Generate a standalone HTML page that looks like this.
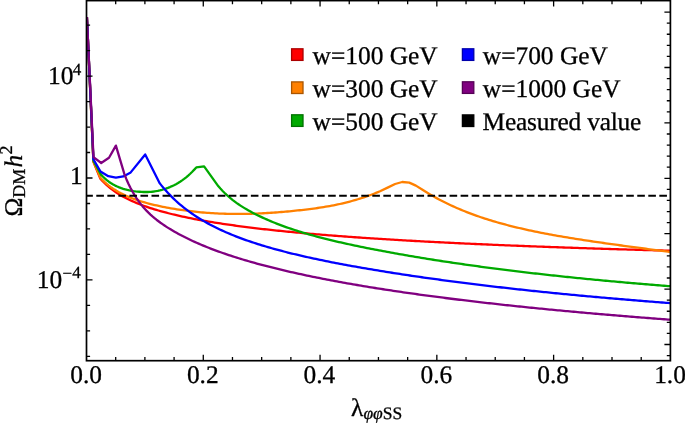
<!DOCTYPE html>
<html><head><meta charset="utf-8"><style>
html,body{margin:0;padding:0;background:#fff;}
svg{display:block;will-change:transform;}
text{font-family:"Liberation Serif",serif;fill:#000;stroke:#000;stroke-width:0.3px;text-rendering:geometricPrecision;}
</style></head><body>
<svg width="685" height="423" viewBox="0 0 685 423">
<rect width="685" height="423" fill="#fff"/>
<defs><clipPath id="pc"><rect x="86.5" y="0.6" width="583.90" height="360.10"/></clipPath></defs>
<g fill="none" stroke-width="2.3" stroke-linejoin="round" stroke-linecap="butt" clip-path="url(#pc)">
<polyline points="86.90,17.00 93.40,161.80 100.20,178.40 102.21,180.69 104.21,182.78 106.22,184.70 108.23,186.47 110.23,188.12 112.24,189.67 114.24,191.11 116.25,192.47 118.26,193.76 120.26,194.97 122.27,196.13 124.28,197.23 126.28,198.27 128.29,199.27 130.30,200.23 132.30,201.15 134.31,202.03 136.31,202.88 138.32,203.70 140.33,204.48 142.33,205.24 144.34,205.98 146.35,206.69 148.35,207.38 150.36,208.04 152.36,208.69 154.37,209.31 156.38,209.92 158.38,210.52 160.39,211.09 162.40,211.65 164.40,212.20 166.41,212.73 168.42,213.25 170.42,213.75 172.43,214.25 174.43,214.73 176.44,215.20 178.45,215.66 180.45,216.11 182.46,216.55 184.47,216.98 186.47,217.41 188.48,217.82 190.49,218.22 192.49,218.62 194.50,219.01 196.50,219.39 198.51,219.77 200.52,220.14 202.52,220.50 204.53,220.85 206.54,221.20 208.54,221.54 210.55,221.88 212.55,222.21 214.56,222.53 216.57,222.85 218.57,223.17 220.58,223.48 222.59,223.78 224.59,224.08 226.60,224.37 228.61,224.66 230.61,224.95 232.62,225.23 234.62,225.51 236.63,225.78 238.64,226.05 240.64,226.32 242.65,226.58 244.66,226.84 246.66,227.09 248.67,227.35 250.68,227.59 252.68,227.84 254.69,228.08 256.69,228.32 258.70,228.55 260.71,228.79 262.71,229.02 264.72,229.24 266.73,229.47 268.73,229.69 270.74,229.90 272.75,230.12 274.75,230.33 276.76,230.54 278.76,230.75 280.77,230.96 282.78,231.16 284.78,231.36 286.79,231.56 288.80,231.76 290.80,231.95 292.81,232.14 294.81,232.33 296.82,232.52 298.83,232.71 300.83,232.89 302.84,233.07 304.85,233.25 306.85,233.43 308.86,233.61 310.87,233.78 312.87,233.96 314.88,234.13 316.88,234.30 318.89,234.46 320.90,234.63 322.90,234.80 324.91,234.96 326.92,235.12 328.92,235.28 330.93,235.44 332.94,235.59 334.94,235.75 336.95,235.90 338.95,236.06 340.96,236.21 342.97,236.36 344.97,236.51 346.98,236.65 348.99,236.80 350.99,236.94 353.00,237.09 355.00,237.23 357.01,237.37 359.02,237.51 361.02,237.65 363.03,237.78 365.04,237.92 367.04,238.05 369.05,238.19 371.06,238.32 373.06,238.45 375.07,238.58 377.07,238.71 379.08,238.84 381.09,238.97 383.09,239.09 385.10,239.22 387.11,239.34 389.11,239.47 391.12,239.59 393.13,239.71 395.13,239.83 397.14,239.95 399.14,240.07 401.15,240.18 403.16,240.30 405.16,240.42 407.17,240.53 409.18,240.65 411.18,240.76 413.19,240.87 415.20,240.98 417.20,241.09 419.21,241.20 421.21,241.31 423.22,241.42 425.23,241.53 427.23,241.64 429.24,241.74 431.25,241.85 433.25,241.95 435.26,242.06 437.26,242.16 439.27,242.26 441.28,242.36 443.28,242.46 445.29,242.56 447.30,242.66 449.30,242.76 451.31,242.86 453.32,242.96 455.32,243.06 457.33,243.15 459.33,243.25 461.34,243.34 463.35,243.44 465.35,243.53 467.36,243.62 469.37,243.72 471.37,243.81 473.38,243.90 475.39,243.99 477.39,244.08 479.40,244.17 481.40,244.26 483.41,244.35 485.42,244.44 487.42,244.52 489.43,244.61 491.44,244.70 493.44,244.78 495.45,244.87 497.45,244.95 499.46,245.04 501.47,245.12 503.47,245.20 505.48,245.28 507.49,245.37 509.49,245.45 511.50,245.53 513.51,245.61 515.51,245.69 517.52,245.77 519.52,245.85 521.53,245.93 523.54,246.01 525.54,246.08 527.55,246.16 529.56,246.24 531.56,246.31 533.57,246.39 535.58,246.47 537.58,246.54 539.59,246.62 541.59,246.69 543.60,246.76 545.61,246.84 547.61,246.91 549.62,246.98 551.63,247.06 553.63,247.13 555.64,247.20 557.65,247.27 559.65,247.34 561.66,247.41 563.66,247.48 565.67,247.55 567.68,247.62 569.68,247.69 571.69,247.76 573.70,247.82 575.70,247.89 577.71,247.96 579.71,248.03 581.72,248.09 583.73,248.16 585.73,248.22 587.74,248.29 589.75,248.35 591.75,248.42 593.76,248.48 595.77,248.55 597.77,248.61 599.78,248.67 601.78,248.74 603.79,248.80 605.80,248.86 607.80,248.92 609.81,248.99 611.82,249.05 613.82,249.11 615.83,249.17 617.84,249.23 619.84,249.29 621.85,249.35 623.85,249.41 625.86,249.47 627.87,249.53 629.87,249.59 631.88,249.65 633.89,249.70 635.89,249.76 637.90,249.82 639.90,249.88 641.91,249.93 643.92,249.99 645.92,250.05 647.93,250.10 649.94,250.16 651.94,250.21 653.95,250.27 655.96,250.32 657.96,250.38 659.97,250.43 661.97,250.49 663.98,250.54 665.99,250.59 667.99,250.65 670.00,250.70" stroke="#ff0000"/>
<polyline points="86.90,17.00 93.40,161.30 100.40,177.80 102.41,179.95 104.42,181.90 106.43,183.69 108.45,185.34 110.46,186.87 112.47,188.28 114.48,189.60 116.49,190.84 118.50,191.99 120.52,193.08 122.53,194.10 124.54,195.07 126.55,195.98 128.56,196.85 130.57,197.67 132.58,198.45 134.60,199.19 136.61,199.90 138.62,200.57 140.63,201.22 142.64,201.83 144.65,202.42 146.66,202.99 148.68,203.53 150.69,204.05 152.70,204.55 154.71,205.03 156.72,205.49 158.73,205.94 160.75,206.36 162.76,206.77 164.77,207.17 166.78,207.55 168.79,207.92 170.80,208.28 172.81,208.62 174.83,208.96 176.84,209.28 178.85,209.59 180.86,209.89 182.87,210.18 184.88,210.46 186.89,210.73 188.91,210.98 190.92,211.23 192.93,211.47 194.94,211.69 196.95,211.91 198.96,212.11 200.98,212.30 202.99,212.48 205.00,212.65 207.01,212.81 209.02,212.96 211.03,213.10 213.04,213.22 215.06,213.34 217.07,213.44 219.08,213.54 221.09,213.62 223.10,213.70 225.11,213.76 227.13,213.81 229.14,213.86 231.15,213.89 233.16,213.92 235.17,213.94 237.18,213.94 239.19,213.94 241.21,213.93 243.22,213.91 245.23,213.88 247.24,213.84 249.25,213.79 251.26,213.74 253.27,213.68 255.29,213.61 257.30,213.53 259.31,213.44 261.32,213.35 263.33,213.25 265.34,213.14 267.36,213.02 269.37,212.90 271.38,212.77 273.39,212.63 275.40,212.48 277.41,212.33 279.42,212.17 281.44,212.01 283.45,211.84 285.46,211.66 287.47,211.48 289.48,211.29 291.49,211.09 293.51,210.89 295.52,210.68 297.53,210.47 299.54,210.25 301.55,210.02 303.56,209.79 305.57,209.56 307.59,209.32 309.60,209.07 311.61,208.81 313.62,208.55 315.63,208.27 317.64,207.99 319.65,207.70 321.67,207.39 323.68,207.07 325.69,206.74 327.70,206.39 329.71,206.03 331.72,205.66 333.74,205.27 335.75,204.86 337.76,204.44 339.77,204.00 341.78,203.55 343.79,203.07 345.80,202.58 347.82,202.08 349.83,201.55 351.84,201.00 353.85,200.44 355.86,199.86 357.87,199.25 359.88,198.63 361.90,197.99 363.91,197.33 365.92,196.65 367.93,195.94 369.94,195.22 371.95,194.48 373.97,193.71 375.98,192.93 377.99,192.13 380.00,191.30 387.60,187.60 395.10,184.00 402.20,182.00 409.30,182.60 415.90,185.60 422.50,189.80 424.51,191.07 426.52,192.31 428.54,193.53 430.55,194.71 432.56,195.87 434.57,197.01 436.59,198.12 438.60,199.20 440.61,200.26 442.62,201.29 444.63,202.31 446.65,203.30 448.66,204.27 450.67,205.21 452.68,206.14 454.70,207.05 456.71,207.93 458.72,208.80 460.73,209.65 462.74,210.48 464.76,211.29 466.77,212.09 468.78,212.87 470.79,213.63 472.80,214.38 474.82,215.11 476.83,215.83 478.84,216.53 480.85,217.22 482.87,217.89 484.88,218.55 486.89,219.20 488.90,219.83 490.91,220.45 492.93,221.06 494.94,221.66 496.95,222.24 498.96,222.82 500.98,223.38 502.99,223.93 505.00,224.48 507.01,225.01 509.02,225.53 511.04,226.04 513.05,226.55 515.06,227.04 517.07,227.53 519.09,228.00 521.10,228.47 523.11,228.94 525.12,229.39 527.13,229.83 529.15,230.27 531.16,230.70 533.17,231.13 535.18,231.55 537.20,231.96 539.21,232.36 541.22,232.76 543.23,233.16 545.24,233.54 547.26,233.93 549.27,234.30 551.28,234.67 553.29,235.04 555.30,235.40 557.32,235.76 559.33,236.11 561.34,236.46 563.35,236.80 565.37,237.14 567.38,237.48 569.39,237.81 571.40,238.14 573.41,238.46 575.43,238.78 577.44,239.10 579.45,239.42 581.46,239.73 583.48,240.04 585.49,240.34 587.50,240.65 589.51,240.95 591.52,241.25 593.54,241.54 595.55,241.84 597.56,242.13 599.57,242.42 601.59,242.71 603.60,243.00 605.61,243.28 607.62,243.57 609.63,243.85 611.65,244.13 613.66,244.41 615.67,244.69 617.68,244.96 619.70,245.24 621.71,245.51 623.72,245.79 625.73,246.06 627.74,246.33 629.76,246.60 631.77,246.87 633.78,247.15 635.79,247.42 637.80,247.69 639.82,247.95 641.83,248.22 643.84,248.49 645.85,248.76 647.87,249.03 649.88,249.30 651.89,249.57 653.90,249.84 655.91,250.11 657.93,250.38 659.94,250.65 661.95,250.92 663.96,251.19 665.98,251.46 667.99,251.73 670.00,252.00" stroke="#ff8000"/>
<polyline points="86.90,17.00 93.40,160.60 101.00,174.60 103.03,176.76 105.06,178.69 107.08,180.40 109.11,181.93 111.14,183.29 113.17,184.51 115.19,185.59 117.22,186.55 119.25,187.40 121.28,188.16 123.30,188.83 125.33,189.42 127.36,189.93 129.39,190.38 131.41,190.76 133.44,191.09 135.47,191.36 137.50,191.58 139.53,191.76 141.55,191.90 143.58,191.99 145.61,192.02 147.64,191.99 149.66,191.90 151.69,191.74 153.72,191.51 155.75,191.21 157.77,190.83 159.80,190.38 161.83,189.86 163.86,189.27 165.89,188.60 167.91,187.87 169.94,187.06 171.97,186.18 174.00,185.21 176.02,184.16 178.05,183.01 180.08,181.76 182.11,180.39 184.13,178.91 186.16,177.31 188.19,175.58 190.22,173.73 192.24,171.75 194.27,169.64 196.30,167.40 204.10,166.30 218.40,186.30 220.41,188.58 222.41,190.73 224.42,192.76 226.43,194.68 228.44,196.49 230.44,198.21 232.45,199.84 234.46,201.38 236.46,202.86 238.47,204.26 240.48,205.61 242.49,206.90 244.49,208.13 246.50,209.32 248.51,210.47 250.51,211.57 252.52,212.65 254.53,213.69 256.54,214.71 258.54,215.70 260.55,216.66 262.56,217.60 264.56,218.52 266.57,219.42 268.58,220.29 270.58,221.14 272.59,221.97 274.60,222.79 276.61,223.58 278.61,224.36 280.62,225.12 282.63,225.87 284.63,226.60 286.64,227.31 288.65,228.01 290.66,228.69 292.66,229.36 294.67,230.02 296.68,230.67 298.68,231.30 300.69,231.93 302.70,232.54 304.71,233.14 306.71,233.73 308.72,234.31 310.73,234.87 312.73,235.44 314.74,235.99 316.75,236.53 318.76,237.06 320.76,237.59 322.77,238.11 324.78,238.62 326.78,239.12 328.79,239.62 330.80,240.11 332.81,240.59 334.81,241.07 336.82,241.54 338.83,242.01 340.83,242.47 342.84,242.92 344.85,243.37 346.86,243.81 348.86,244.25 350.87,244.69 352.88,245.11 354.88,245.54 356.89,245.96 358.90,246.38 360.90,246.79 362.91,247.20 364.92,247.60 366.93,248.01 368.93,248.40 370.94,248.80 372.95,249.19 374.95,249.58 376.96,249.97 378.97,250.35 380.98,250.73 382.98,251.11 384.99,251.48 387.00,251.85 389.00,252.22 391.01,252.59 393.02,252.95 395.03,253.32 397.03,253.68 399.04,254.03 401.05,254.39 403.05,254.74 405.06,255.09 407.07,255.44 409.08,255.78 411.08,256.12 413.09,256.46 415.10,256.80 417.10,257.14 419.11,257.47 421.12,257.80 423.13,258.13 425.13,258.46 427.14,258.78 429.15,259.10 431.15,259.42 433.16,259.74 435.17,260.06 437.18,260.37 439.18,260.68 441.19,260.99 443.20,261.30 445.20,261.60 447.21,261.91 449.22,262.21 451.22,262.51 453.23,262.81 455.24,263.10 457.25,263.40 459.25,263.69 461.26,263.98 463.27,264.26 465.27,264.55 467.28,264.83 469.29,265.12 471.30,265.40 473.30,265.68 475.31,265.95 477.32,266.23 479.32,266.50 481.33,266.77 483.34,267.04 485.35,267.31 487.35,267.58 489.36,267.84 491.37,268.11 493.37,268.37 495.38,268.63 497.39,268.89 499.40,269.14 501.40,269.40 503.41,269.65 505.42,269.90 507.42,270.15 509.43,270.40 511.44,270.65 513.45,270.90 515.45,271.14 517.46,271.38 519.47,271.62 521.47,271.86 523.48,272.10 525.49,272.34 527.50,272.57 529.50,272.81 531.51,273.04 533.52,273.27 535.52,273.50 537.53,273.73 539.54,273.96 541.54,274.18 543.55,274.41 545.56,274.63 547.57,274.85 549.57,275.07 551.58,275.29 553.59,275.51 555.59,275.72 557.60,275.94 559.61,276.15 561.62,276.36 563.62,276.58 565.63,276.79 567.64,276.99 569.64,277.20 571.65,277.41 573.66,277.61 575.67,277.82 577.67,278.02 579.68,278.22 581.69,278.42 583.69,278.62 585.70,278.82 587.71,279.02 589.72,279.21 591.72,279.41 593.73,279.60 595.74,279.79 597.74,279.98 599.75,280.17 601.76,280.36 603.77,280.55 605.77,280.74 607.78,280.92 609.79,281.11 611.79,281.29 613.80,281.48 615.81,281.66 617.82,281.84 619.82,282.02 621.83,282.20 623.84,282.37 625.84,282.55 627.85,282.73 629.86,282.90 631.86,283.07 633.87,283.25 635.88,283.42 637.89,283.59 639.89,283.76 641.90,283.93 643.91,284.10 645.91,284.26 647.92,284.43 649.93,284.60 651.94,284.76 653.94,284.92 655.95,285.09 657.96,285.25 659.96,285.41 661.97,285.57 663.98,285.73 665.99,285.89 667.99,286.04 670.00,286.20" stroke="#00aa00"/>
<polyline points="86.90,17.00 93.40,159.20 100.50,171.50 108.30,176.20 115.90,177.60 123.30,176.40 130.70,172.40 145.20,154.50 159.80,183.40 161.80,185.90 163.80,188.29 165.80,190.58 167.80,192.78 169.80,194.89 171.80,196.91 173.81,198.86 175.81,200.73 177.81,202.53 179.81,204.27 181.81,205.94 183.81,207.56 185.81,209.12 187.81,210.63 189.81,212.09 191.81,213.50 193.81,214.87 195.81,216.20 197.81,217.48 199.82,218.73 201.82,219.94 203.82,221.12 205.82,222.27 207.82,223.38 209.82,224.46 211.82,225.52 213.82,226.54 215.82,227.54 217.82,228.52 219.82,229.47 221.82,230.40 223.83,231.30 225.83,232.19 227.83,233.05 229.83,233.90 231.83,234.73 233.83,235.54 235.83,236.33 237.83,237.10 239.83,237.86 241.83,238.61 243.83,239.34 245.83,240.05 247.83,240.75 249.84,241.44 251.84,242.12 253.84,242.78 255.84,243.43 257.84,244.07 259.84,244.70 261.84,245.31 263.84,245.92 265.84,246.52 267.84,247.11 269.84,247.69 271.84,248.26 273.84,248.82 275.85,249.37 277.85,249.91 279.85,250.45 281.85,250.98 283.85,251.50 285.85,252.01 287.85,252.52 289.85,253.02 291.85,253.51 293.85,254.00 295.85,254.48 297.85,254.96 299.85,255.43 301.86,255.89 303.86,256.35 305.86,256.80 307.86,257.25 309.86,257.69 311.86,258.13 313.86,258.56 315.86,258.99 317.86,259.41 319.86,259.83 321.86,260.24 323.86,260.65 325.87,261.06 327.87,261.46 329.87,261.86 331.87,262.26 333.87,262.65 335.87,263.03 337.87,263.42 339.87,263.80 341.87,264.18 343.87,264.55 345.87,264.92 347.87,265.29 349.87,265.65 351.88,266.02 353.88,266.37 355.88,266.73 357.88,267.08 359.88,267.44 361.88,267.78 363.88,268.13 365.88,268.47 367.88,268.81 369.88,269.15 371.88,269.49 373.88,269.82 375.88,270.16 377.89,270.48 379.89,270.81 381.89,271.14 383.89,271.46 385.89,271.78 387.89,272.10 389.89,272.42 391.89,272.74 393.89,273.05 395.89,273.36 397.89,273.67 399.89,273.98 401.89,274.28 403.90,274.59 405.90,274.89 407.90,275.19 409.90,275.49 411.90,275.79 413.90,276.08 415.90,276.37 417.90,276.66 419.90,276.95 421.90,277.24 423.90,277.53 425.90,277.81 427.91,278.10 429.91,278.38 431.91,278.66 433.91,278.93 435.91,279.21 437.91,279.48 439.91,279.76 441.91,280.03 443.91,280.30 445.91,280.57 447.91,280.83 449.91,281.10 451.91,281.36 453.92,281.62 455.92,281.88 457.92,282.14 459.92,282.40 461.92,282.66 463.92,282.91 465.92,283.16 467.92,283.42 469.92,283.67 471.92,283.92 473.92,284.16 475.92,284.41 477.92,284.65 479.93,284.90 481.93,285.14 483.93,285.38 485.93,285.62 487.93,285.86 489.93,286.10 491.93,286.33 493.93,286.57 495.93,286.80 497.93,287.03 499.93,287.26 501.93,287.49 503.93,287.72 505.94,287.94 507.94,288.17 509.94,288.39 511.94,288.62 513.94,288.84 515.94,289.06 517.94,289.28 519.94,289.50 521.94,289.71 523.94,289.93 525.94,290.15 527.94,290.36 529.95,290.57 531.95,290.78 533.95,290.99 535.95,291.20 537.95,291.41 539.95,291.62 541.95,291.82 543.95,292.03 545.95,292.23 547.95,292.44 549.95,292.64 551.95,292.84 553.95,293.04 555.96,293.24 557.96,293.44 559.96,293.63 561.96,293.83 563.96,294.02 565.96,294.22 567.96,294.41 569.96,294.60 571.96,294.79 573.96,294.98 575.96,295.17 577.96,295.36 579.96,295.55 581.97,295.73 583.97,295.92 585.97,296.10 587.97,296.29 589.97,296.47 591.97,296.65 593.97,296.83 595.97,297.01 597.97,297.19 599.97,297.37 601.97,297.55 603.97,297.72 605.97,297.90 607.98,298.07 609.98,298.25 611.98,298.42 613.98,298.59 615.98,298.76 617.98,298.93 619.98,299.10 621.98,299.27 623.98,299.44 625.98,299.61 627.98,299.77 629.98,299.94 631.99,300.11 633.99,300.27 635.99,300.43 637.99,300.60 639.99,300.76 641.99,300.92 643.99,301.08 645.99,301.24 647.99,301.40 649.99,301.56 651.99,301.71 653.99,301.87 655.99,302.03 658.00,302.18 660.00,302.34 662.00,302.49 664.00,302.64 666.00,302.80 668.00,302.95 670.00,303.10" stroke="#0000ff"/>
<polyline points="86.90,17.00 93.50,157.20 101.20,163.00 109.00,157.80 115.90,145.60 124.40,174.20 126.41,179.18 128.41,183.68 130.42,187.77 132.42,191.50 134.43,194.92 136.44,198.06 138.44,200.96 140.45,203.64 142.45,206.13 144.46,208.45 146.46,210.62 148.47,212.65 150.48,214.57 152.48,216.38 154.49,218.09 156.49,219.72 158.50,221.27 160.51,222.76 162.51,224.17 164.52,225.54 166.52,226.85 168.53,228.12 170.54,229.35 172.54,230.54 174.55,231.70 176.55,232.83 178.56,233.93 180.56,235.00 182.57,236.05 184.58,237.07 186.58,238.07 188.59,239.05 190.59,240.00 192.60,240.94 194.61,241.85 196.61,242.75 198.62,243.63 200.62,244.49 202.63,245.33 204.64,246.16 206.64,246.98 208.65,247.77 210.65,248.56 212.66,249.33 214.66,250.08 216.67,250.83 218.68,251.56 220.68,252.28 222.69,252.98 224.69,253.68 226.70,254.37 228.71,255.04 230.71,255.70 232.72,256.36 234.72,257.00 236.73,257.64 238.74,258.26 240.74,258.88 242.75,259.49 244.75,260.09 246.76,260.68 248.76,261.26 250.77,261.84 252.78,262.41 254.78,262.97 256.79,263.53 258.79,264.07 260.80,264.61 262.81,265.15 264.81,265.68 266.82,266.20 268.82,266.71 270.83,267.22 272.84,267.73 274.84,268.22 276.85,268.72 278.85,269.20 280.86,269.69 282.86,270.16 284.87,270.64 286.88,271.10 288.88,271.56 290.89,272.02 292.89,272.48 294.90,272.92 296.91,273.37 298.91,273.81 300.92,274.24 302.92,274.67 304.93,275.10 306.94,275.52 308.94,275.94 310.95,276.36 312.95,276.77 314.96,277.18 316.96,277.58 318.97,277.98 320.98,278.38 322.98,278.78 324.99,279.17 326.99,279.55 329.00,279.94 331.01,280.32 333.01,280.70 335.02,281.07 337.02,281.44 339.03,281.81 341.04,282.18 343.04,282.54 345.05,282.90 347.05,283.26 349.06,283.61 351.06,283.97 353.07,284.31 355.08,284.66 357.08,285.00 359.09,285.35 361.09,285.68 363.10,286.02 365.11,286.36 367.11,286.69 369.12,287.02 371.12,287.34 373.13,287.67 375.14,287.99 377.14,288.31 379.15,288.62 381.15,288.94 383.16,289.25 385.16,289.56 387.17,289.87 389.18,290.18 391.18,290.48 393.19,290.78 395.19,291.09 397.20,291.38 399.21,291.68 401.21,291.97 403.22,292.27 405.22,292.56 407.23,292.84 409.24,293.13 411.24,293.42 413.25,293.70 415.25,293.98 417.26,294.26 419.26,294.54 421.27,294.81 423.28,295.09 425.28,295.36 427.29,295.63 429.29,295.90 431.30,296.16 433.31,296.43 435.31,296.69 437.32,296.95 439.32,297.22 441.33,297.47 443.34,297.73 445.34,297.99 447.35,298.24 449.35,298.50 451.36,298.75 453.36,299.00 455.37,299.25 457.38,299.49 459.38,299.74 461.39,299.98 463.39,300.22 465.40,300.47 467.41,300.71 469.41,300.94 471.42,301.18 473.42,301.42 475.43,301.65 477.44,301.89 479.44,302.12 481.45,302.35 483.45,302.58 485.46,302.81 487.46,303.03 489.47,303.26 491.48,303.48 493.48,303.71 495.49,303.93 497.49,304.15 499.50,304.37 501.51,304.59 503.51,304.81 505.52,305.02 507.52,305.24 509.53,305.45 511.54,305.67 513.54,305.88 515.55,306.09 517.55,306.30 519.56,306.51 521.56,306.71 523.57,306.92 525.58,307.13 527.58,307.33 529.59,307.53 531.59,307.74 533.60,307.94 535.61,308.14 537.61,308.34 539.62,308.54 541.62,308.73 543.63,308.93 545.64,309.13 547.64,309.32 549.65,309.52 551.65,309.71 553.66,309.90 555.66,310.09 557.67,310.28 559.68,310.47 561.68,310.66 563.69,310.85 565.69,311.03 567.70,311.22 569.71,311.40 571.71,311.59 573.72,311.77 575.72,311.95 577.73,312.14 579.74,312.32 581.74,312.50 583.75,312.68 585.75,312.85 587.76,313.03 589.76,313.21 591.77,313.38 593.78,313.56 595.78,313.73 597.79,313.91 599.79,314.08 601.80,314.25 603.81,314.42 605.81,314.59 607.82,314.76 609.82,314.93 611.83,315.10 613.84,315.27 615.84,315.44 617.85,315.60 619.85,315.77 621.86,315.93 623.86,316.10 625.87,316.26 627.88,316.42 629.88,316.59 631.89,316.75 633.89,316.91 635.90,317.07 637.91,317.23 639.91,317.39 641.92,317.55 643.92,317.70 645.93,317.86 647.94,318.02 649.94,318.17 651.95,318.33 653.95,318.48 655.96,318.64 657.96,318.79 659.97,318.94 661.98,319.10 663.98,319.25 665.99,319.40 667.99,319.55 670.00,319.70" stroke="#800080"/>
</g>
<line x1="86.5" y1="195.85" x2="670.4" y2="195.85" stroke="#000" stroke-width="2.0" stroke-dasharray="7.6 3.44" stroke-dashoffset="1.24"/>
<rect x="86.5" y="0.6" width="583.90" height="360.10" fill="none" stroke="#000" stroke-width="1.7"/>
<path d="M115.69,360.7v-3.6 M115.69,0.6v3.6 M144.89,360.7v-3.6 M144.89,0.6v3.6 M174.09,360.7v-3.6 M174.09,0.6v3.6 M203.28,360.7v-6 M203.28,0.6v6 M232.47,360.7v-3.6 M232.47,0.6v3.6 M261.67,360.7v-3.6 M261.67,0.6v3.6 M290.87,360.7v-3.6 M290.87,0.6v3.6 M320.06,360.7v-6 M320.06,0.6v6 M349.25,360.7v-3.6 M349.25,0.6v3.6 M378.45,360.7v-3.6 M378.45,0.6v3.6 M407.65,360.7v-3.6 M407.65,0.6v3.6 M436.84,360.7v-6 M436.84,0.6v6 M466.04,360.7v-3.6 M466.04,0.6v3.6 M495.23,360.7v-3.6 M495.23,0.6v3.6 M524.42,360.7v-3.6 M524.42,0.6v3.6 M553.62,360.7v-6 M553.62,0.6v6 M582.82,360.7v-3.6 M582.82,0.6v3.6 M612.01,360.7v-3.6 M612.01,0.6v3.6 M641.21,360.7v-3.6 M641.21,0.6v3.6 M86.5,356.36h3.6 M86.5,330.88h3.6 M86.5,305.40h3.6 M86.5,279.92h6 M86.5,254.44h3.6 M86.5,228.96h3.6 M86.5,203.48h3.6 M86.5,178.00h6 M86.5,152.52h3.6 M86.5,127.04h3.6 M86.5,101.56h3.6 M86.5,76.08h6 M86.5,50.60h3.6 M86.5,25.12h3.6 M670.4,12.10h-6 M670.4,23.18h-3.6 M670.4,34.26h-3.6 M670.4,45.34h-3.6 M670.4,56.42h-3.6 M670.4,67.50h-6 M670.4,78.58h-3.6 M670.4,89.66h-3.6 M670.4,100.74h-3.6 M670.4,111.82h-3.6 M670.4,122.90h-6 M670.4,133.98h-3.6 M670.4,145.06h-3.6 M670.4,156.14h-3.6 M670.4,167.22h-3.6 M670.4,178.30h-6 M670.4,189.38h-3.6 M670.4,200.46h-3.6 M670.4,211.54h-3.6 M670.4,222.62h-3.6 M670.4,233.70h-6 M670.4,244.78h-3.6 M670.4,255.86h-3.6 M670.4,266.94h-3.6 M670.4,278.02h-3.6 M670.4,289.10h-6 M670.4,300.18h-3.6 M670.4,311.26h-3.6 M670.4,322.34h-3.6 M670.4,333.42h-3.6 M670.4,344.50h-6 M670.4,355.58h-3.6" stroke="#000" stroke-width="1.3" fill="none"/>
<g font-size="25.4" text-anchor="middle">
<text x="86.10" y="382.7">0.0</text>
<text x="202.78" y="382.7">0.2</text>
<text x="319.46" y="382.7">0.4</text>
<text x="436.34" y="382.7">0.6</text>
<text x="553.12" y="382.7">0.8</text>
<text x="670.00" y="382.7">1.0</text>
</g>
<g font-size="25.4">
<text x="48.1" y="83.6">10</text>
<text x="70.0" y="183.8">1</text>
<text x="36.7" y="287.9">10</text>
</g>
<g font-size="17">
<text x="72.7" y="74.6">4</text>
<text x="62.6" y="277.9"><tspan dy="0.7">&#8722;</tspan><tspan dy="-0.7">4</tspan></text>
</g>
<!-- x label -->
<text x="351.1" y="416.0" font-size="25.4">&#955;<tspan font-size="17.5" font-style="italic" dy="2.6">&#966;&#966;</tspan><tspan font-size="17.5">SS</tspan></text>
<!-- y label -->
<text transform="translate(22.0,216.5) rotate(-90)" font-size="25.4">&#937;<tspan font-size="18" dy="3.2">DM</tspan><tspan font-style="italic" dy="-3.2" dx="1.2">h</tspan><tspan font-size="18" dy="-9.8" dx="0.3">2</tspan></text>
<!-- legend -->
<g stroke-width="1.3">
<rect x="291.6" y="48.8" width="11.4" height="11.6" fill="#ff0000" stroke="#aa0000"/>
<rect x="291.6" y="81.9" width="11.4" height="11.6" fill="#ff8000" stroke="#aa5500"/>
<rect x="291.6" y="114.8" width="11.4" height="11.6" fill="#00aa00" stroke="#007100"/>
<rect x="462.4" y="48.8" width="11.4" height="11.6" fill="#0000ff" stroke="#0000aa"/>
<rect x="462.4" y="81.8" width="11.4" height="11.6" fill="#800080" stroke="#550055"/>
<rect x="462.4" y="114.9" width="11.4" height="11.6" fill="#000" stroke="#000"/>
</g>
<g font-size="25.4">
<text x="312.6" y="63.8">w=100 GeV</text>
<text x="312.6" y="96.8">w=300 GeV</text>
<text x="312.6" y="129.8">w=500 GeV</text>
<text x="482.8" y="63.8">w=700 GeV</text>
<text x="482.8" y="96.8">w=1000 GeV</text>
<text x="482.5" y="129.8" letter-spacing="-0.2">Measured value</text>
</g>
</svg>
</body></html>
